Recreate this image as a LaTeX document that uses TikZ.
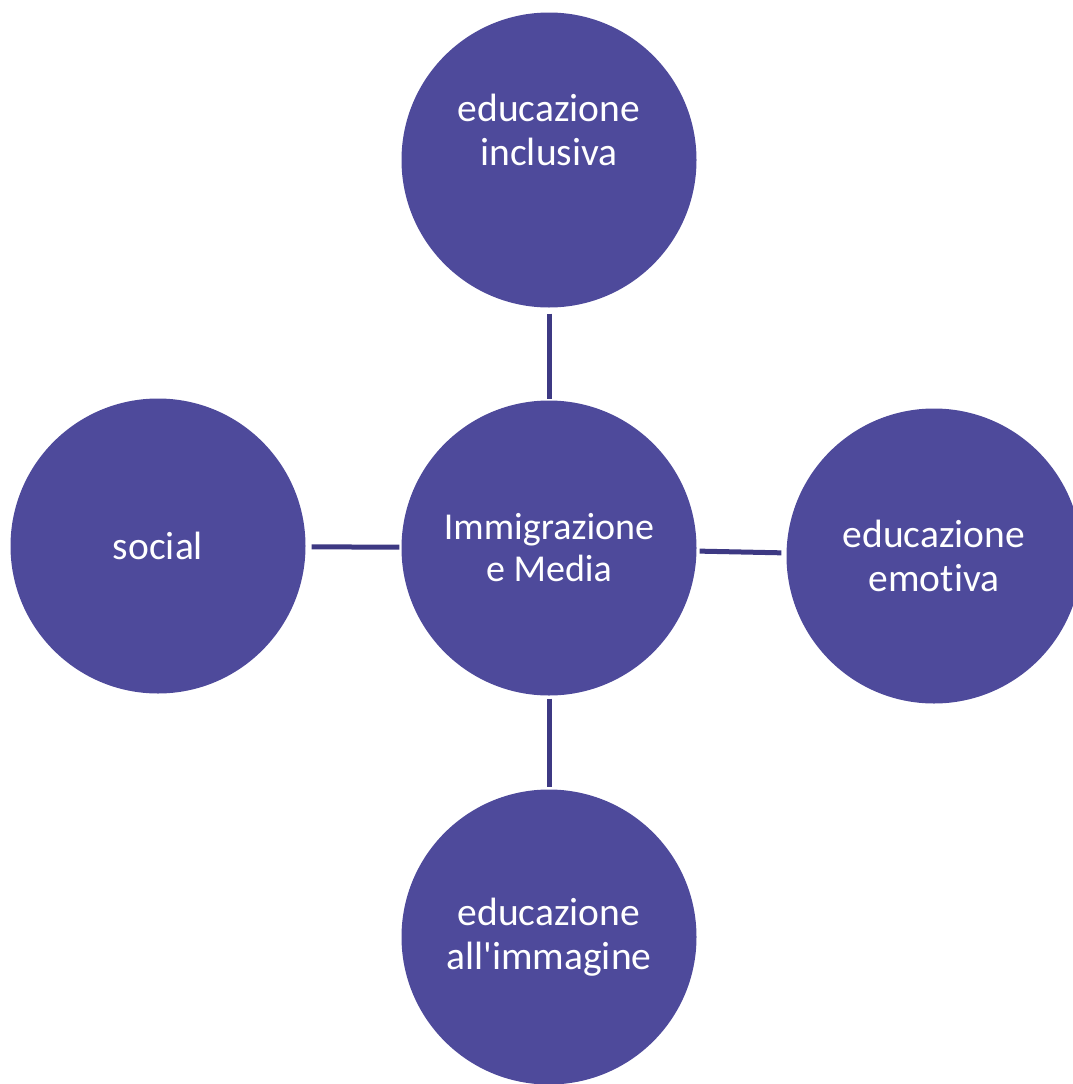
\documentclass[tikz,border=0pt]{standalone}
\usepackage{fontspec}
\setmainfont{Carlito}[Ligatures={NoCommon}]
\definecolor{circfill}{HTML}{4E4A9B}
\definecolor{linkcol}{HTML}{3D3983}
\tikzset{
  bubble/.style={circle, fill=circfill, draw=none, minimum size=295pt, inner sep=0pt,
    text=white, align=center, font=\fontsize{39.5}{44}\selectfont},
  bubbletext/.style={text=white, align=center, font=\fontsize{39.5}{44}\selectfont},
  link/.style={draw=linkcol, line width=5pt}
}
\begin{document}
\begin{tikzpicture}[x=1pt,y=-1pt]
\useasboundingbox (0,0) rectangle (1072,1084);
\node[bubble] (top) at (549,160) {};
\node[bubbletext] (toptext) at (549,130) {educazione\\inclusiva};
\node[bubble, font=\fontsize{38}{42}\selectfont] (mid) at (549,548) {Immigrazione\\e Media};
\node[bubble] (left) at (158,546) {social};
\node[bubble] (right) at (934,556) {educazione\\emotiva};
\node[bubble] (bottom) at (549,937) {educazione\\all\textquotesingle immagine};
\draw[link, shorten <=6pt, shorten >=1pt] (top) -- (mid);
\draw[link, shorten <=3pt, shorten >=2pt] (mid) -- (bottom);
\draw[link, shorten <=6pt, shorten >=2pt] (left) -- (mid);
\draw[link, shorten <=3pt, shorten >=5pt] (mid) -- (right);
\end{tikzpicture}
\end{document}
